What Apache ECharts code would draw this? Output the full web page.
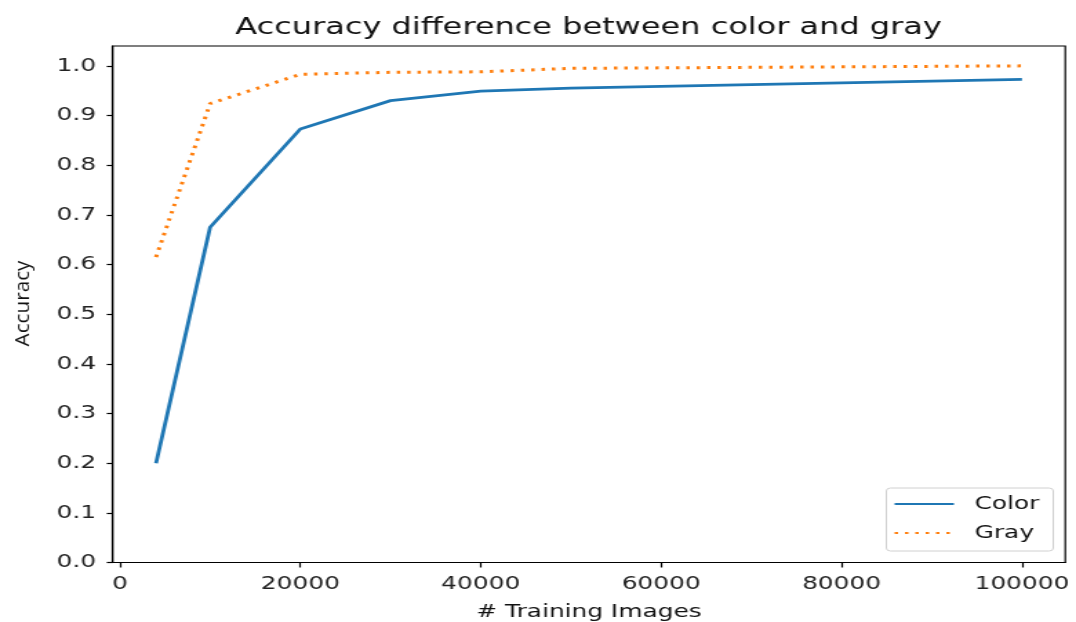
<!DOCTYPE html>
<html>
<head>
<meta charset="utf-8">
<script src="https://cdn.jsdelivr.net/npm/echarts@6/dist/echarts.min.js"></script>
<style>
    body{margin:0;background:#fff;overflow:hidden;}
    /* 原图横向被拉伸，所以画在窄一点的画布上再横向放大 */
    #main{width:780px;height:622px;transform:scaleX(1.3795);transform-origin:0 0;}
</style>
</head>
<body>
<div id="main"></div>
<script>
var trainImages = [4000, 10000, 20000, 30000, 40000, 50000, 100000];
var colorAcc = [0.200, 0.675, 0.873, 0.930, 0.949, 0.955, 0.973];
var grayAcc = [0.615, 0.924, 0.983, 0.987, 0.988, 0.995, 1.000];
var xTicks = [0, 20000, 40000, 60000, 80000, 100000];
var yTicks = [0, 0.1, 0.2, 0.3, 0.4, 0.5, 0.6, 0.7, 0.8, 0.9, 1.0];

function pairs(xs, ys){
    return xs.map(function(x, i){ return [x, ys[i]]; });
}

var font = 'DejaVu Sans';
var myChart = echarts.init(document.getElementById('main'));
var option = {
    animation: false,
    title: {
        text: 'Accuracy difference between color and gray',
        left: 165.5,
        top: 11,
        textStyle: {fontFamily: font, fontSize: 23.2, fontWeight: 'normal', color: '#111'}
    },
    grid: {
        left: 81.7,
        right: 7.8,
        top: 46,
        bottom: 59.5,
        outerBoundsMode: 'none',
        containLabel: false,
        show: true,
        borderColor: '#000',
        borderWidth: 1.2
    },
    legend: {
        orient: 'vertical',
        left: 642.5,
        top: 488,
        itemWidth: 43,
        itemHeight: 14,
        itemGap: 11,
        padding: [7, 10, 9, 5],
        borderColor: '#d0d0d0',
        borderWidth: 1,
        borderRadius: 3,
        backgroundColor: 'rgba(255,255,255,0.8)',
        itemStyle: {opacity: 0},
        textStyle: {fontFamily: font, fontSize: 18, lineHeight: 18, color: '#111', padding: [0, 0, 0, 10]},
        data: ['Color', 'Gray']
    },
    xAxis: {
        type: 'value',
        min: -800,
        max: 104800,
        name: '# Training Images',
        nameLocation: 'middle',
        nameGap: 41,
        nameTextStyle: {fontFamily: font, fontSize: 18, color: '#111'},
        axisLine: {show: true, onZero: false, lineStyle: {color: '#000', width: 1.2}},
        axisTick: {show: true, length: 5, customValues: xTicks, lineStyle: {color: '#000', width: 1.2}},
        axisLabel: {
            customValues: xTicks,
            margin: 13,
            fontFamily: font,
            fontSize: 18,
            color: '#222',
            formatter: function(v){ return String(v); }
        },
        splitLine: {show: false}
    },
    yAxis: {
        type: 'value',
        min: 0,
        max: 1.04,
        axisLine: {show: true, onZero: false, lineStyle: {color: '#000', width: 1.2}},
        axisTick: {show: true, length: 4.3, customValues: yTicks, lineStyle: {color: '#000', width: 1.2}},
        axisLabel: {
            customValues: yTicks,
            margin: 12,
            fontFamily: font,
            fontSize: 18,
            color: '#222',
            formatter: function(v){ return v.toFixed(1); }
        },
        splitLine: {show: false}
    },
    // y轴标题单独画，抵消横向拉伸
    graphic: [{
        type: 'text',
        x: 16.7,
        y: 303.5,
        rotation: Math.PI / 2,
        scaleY: 0.725,
        style: {
            text: 'Accuracy',
            fontFamily: 'Open Sans',
            fontSize: 20.7,
            fill: '#111',
            align: 'center',
            verticalAlign: 'middle'
        }
    }],
    series: [
        {
            name: 'Color',
            type: 'line',
            data: pairs(trainImages, colorAcc),
            symbol: 'none',
            lineStyle: {color: '#1f77b4', width: 2.8},
            itemStyle: {color: '#1f77b4'}
        },
        {
            name: 'Gray',
            type: 'line',
            data: pairs(trainImages, grayAcc),
            symbol: 'none',
            lineStyle: {color: '#ff7f0e', width: 3, type: [2.5, 5], cap: 'butt'},
            itemStyle: {color: '#ff7f0e'}
        }
    ]
};
myChart.setOption(option);
window.onresize = function(){
    myChart.resize();
};
</script>
</body>
</html>
